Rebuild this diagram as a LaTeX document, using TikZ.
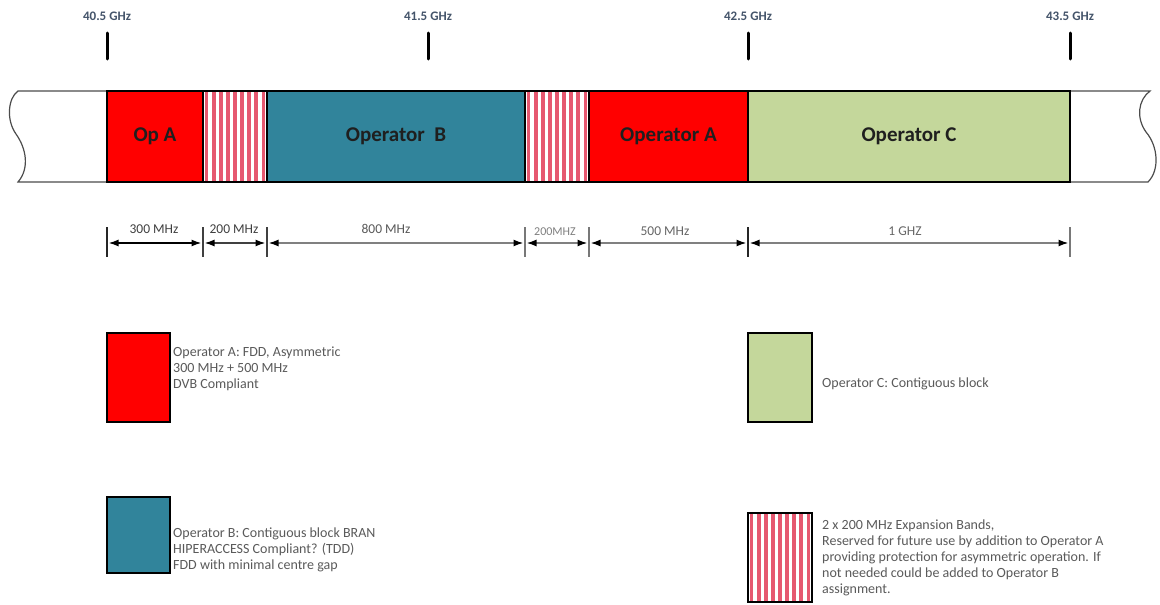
\documentclass[tikz,border=0pt]{standalone}
\usepackage{fontspec}
\setmainfont{Carlito}
\usetikzlibrary{arrows.meta}
\definecolor{opred}{RGB}{255,0,0}
\definecolor{opteal}{RGB}{49,132,155}
\definecolor{opgreen}{RGB}{196,215,155}
\definecolor{stripepink}{RGB}{230,88,112}
\definecolor{ticklbl}{RGB}{68,84,106}
\definecolor{legtxt}{RGB}{90,90,90}
\definecolor{dimgray}{RGB}{120,120,120}
\newcommand{\stripefill}[3]{%
  \foreach \i in {0,...,8} {\fill[stripepink] ({#1+1.7+\i*7.11},#2) rectangle ++(3.7,#3);}}
\tikzset{
  block/.style={draw=black, line width=1.2pt, inner sep=0pt, minimum height=91pt, font=\fontsize{21}{24}\selectfont\bfseries, text=black!88},
  legbox/.style={draw=black, line width=1.4pt, inner sep=0pt},
  legtext/.style={anchor=west, align=left, inner sep=0pt, text=legtxt, font=\fontsize{14}{16}\selectfont},
  ticklabel/.style={text=ticklbl, font=\fontsize{13}{15}\selectfont\bfseries, inner sep=0pt},
  tickmark/.style={line width=3pt, line cap=round},
  dimtick/.style={line width=1.2pt, draw=dimgray},
  dimarrow/.style={line width=1.6pt, {Latex[length=10pt,width=7pt,color=black]}-{Latex[length=10pt,width=7pt,color=black]}},
  dimlabel/.style={inner sep=0pt, text=black!75, font=\fontsize{13.5}{15}\selectfont},
  bandline/.style={line width=1.2pt, draw=black!70}
}
\begin{document}
\begin{tikzpicture}[x=1pt,y=-1pt]
\useasboundingbox (0,0) rectangle (1160,605);
\fill[white] (0,0) rectangle (1160,605);

% frequency ticks
\foreach \x/\n/\t in {107/a/40.5 GHz, 428/b/41.5 GHz, 748/c/42.5 GHz, 1070/d/43.5 GHz} {
  \node[ticklabel] (tl\n) at (\x,16) {\t};
  \coordinate (tt\n) at (\x,33);
  \coordinate (tb\n) at (\x,59);
  \draw[tickmark] (tt\n) -- (tb\n);
}

% band outline with wavy ends
\draw[bandline] (18,91) -- (1150,91)
  .. controls (1138,100) and (1136,118) .. (1146,132)
  .. controls (1158,146) and (1160,170) .. (1148,182)
  -- (18,182)
  .. controls (30,168) and (26,148) .. (16,134)
  .. controls (6,120) and (8,98) .. cycle;

% blocks
\node[block, fill=opred, minimum width=96pt] (opA) at (155,136.5) {Op A};
\stripefill{203}{91}{91}
\node[block, minimum width=64pt] (s1) at (235,136.5) {};
\node[block, fill=opteal, minimum width=258pt] (opB) at (396,136.5) {Operator\ \ B};
\stripefill{525}{91}{91}
\node[block, minimum width=64pt] (s2) at (557,136.5) {};
\node[block, fill=opred, minimum width=159pt] (opA2) at (668.5,136.5) {Operator A};
\node[block, fill=opgreen, minimum width=322pt] (opC) at (909,136.5) {Operator C};

% dimension lines
\foreach \x/\n in {107/0, 203/1, 267/2, 525/3, 589/4, 748/5, 1070/6} {
  \coordinate (dt\n) at (\x,227);
  \coordinate (db\n) at (\x,257);
  \coordinate (d\n) at (\x,243);
}
\draw[dimtick, draw=black!85] (dt0) -- (db0);
\draw[dimtick, draw=black!75] (dt1) -- (db1);
\draw[dimtick, draw=black!75] (dt2) -- (db2);
\draw[dimtick] (dt3) -- (db3);
\draw[dimtick] (dt4) -- (db4);
\draw[dimtick, draw=black!85] (dt5) -- (db5);
\draw[dimtick] (dt6) -- (db6);
\draw[dimarrow, draw=black] ([xshift=1.5pt]d0) -- ([xshift=-1.5pt]d1);
\draw[dimarrow, draw=black!75] ([xshift=1.5pt]d1) -- ([xshift=-1.5pt]d2);
\draw[dimarrow, draw=black!50] ([xshift=1.5pt]d2) -- ([xshift=-1.5pt]d3);
\draw[dimarrow, draw=black!50] ([xshift=1.5pt]d3) -- ([xshift=-1.5pt]d4);
\draw[dimarrow, draw=black!50] ([xshift=1.5pt]d4) -- ([xshift=-1.5pt]d5);
\draw[dimarrow, draw=black!50] ([xshift=1.5pt]d5) -- ([xshift=-1.5pt]d6);
\node[dimlabel] (l1) at (154,229) {300 MHz};
\node[dimlabel] (l2) at (234,229) {200 MHz};
\node[dimlabel, text=black!65] (l3) at (386,229) {800 MHz};
\node[dimlabel, text=black!50, font=\fontsize{12}{14}\selectfont] (l4) at (555,232) {200MHZ};
\node[dimlabel, text=black!60] (l5) at (665,231) {500 MHz};
\node[dimlabel, text=black!60] (l6) at (905,231) {1 GHZ};

% legend
\node[legbox, fill=opred, minimum width=63pt, minimum height=89pt] (legA) at (138.5,377.5) {};
\node[legtext] (legAt) at (173,369) {Operator A: FDD, Asymmetric\\300 MHz + 500 MHz\\DVB Compliant};

\node[legbox, fill=opgreen, minimum width=64pt, minimum height=89pt] (legC) at (780,377.5) {};
\node[legtext] (legCt) at (822,384) {Operator C: Contiguous block};

\node[legbox, fill=opteal, minimum width=63pt, minimum height=76pt] (legB) at (138.5,535) {};
\node[legtext] (legBt) at (173,549.5) {Operator B: Contiguous block BRAN\\HIPERACCESS Compliant? (TDD)\\FDD with minimal centre gap};

\stripefill{748}{513}{89}
\node[legbox, minimum width=64pt, minimum height=89pt] (legS) at (780,557.5) {};
\node[legtext] (legSt) at (822,558) {2 x 200 MHz Expansion Bands,\\Reserved for future use by addition to Operator A\\providing protection for asymmetric operation. If\\not needed could be added to Operator B\\assignment.};
\end{tikzpicture}
\end{document}
